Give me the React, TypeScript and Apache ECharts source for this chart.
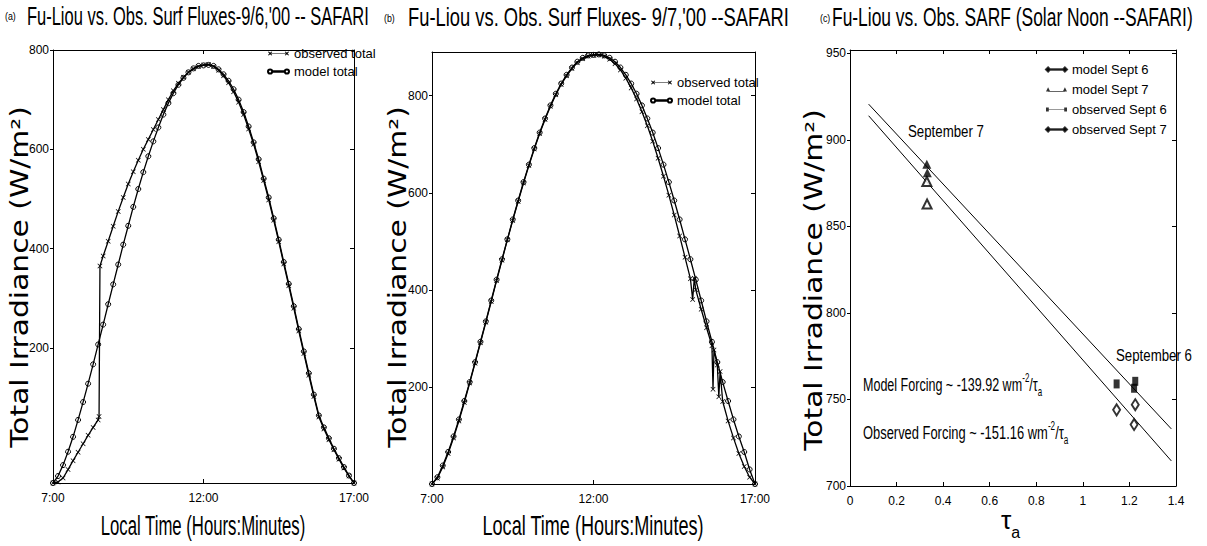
import React, { useEffect, useRef } from "react";
import * as echarts from "echarts";

// ---------- data ----------
// time in decimal hours, irradiance in W/m^2
const timesA = [7, 7.1667, 7.3333, 7.5, 7.6667, 7.8333, 8, 8.1667, 8.3333, 8.5, 8.6667, 8.8333, 9, 9.1667, 9.3333, 9.5, 9.6667, 9.8333, 10, 10.1667, 10.3333, 10.5, 10.6667, 10.8333, 11, 11.1667, 11.3333, 11.5, 11.6667, 11.8333, 12, 12.1667, 12.3333, 12.5, 12.6667, 12.8333, 13, 13.1667, 13.3333, 13.5, 13.6667, 13.8333, 14, 14.1667, 14.3333, 14.5, 14.6667, 14.8333, 15, 15.1667, 15.3333, 15.5, 15.6667, 15.8333, 16, 16.1667, 16.3333, 16.5, 16.6667, 16.8333, 17];
const modelA = [-72, -58, -36, -9, 21, 55, 91, 128, 167, 207, 247, 288, 328, 368, 408, 446, 484, 520, 554, 586, 616, 644, 670, 693, 713, 730, 744, 755, 763, 768, 769, 770, 768, 761, 751, 738, 721, 700, 675, 646, 614, 580, 541, 503, 461, 418, 373, 329, 284, 238, 193, 149, 106, 64, 40, 18, -3, -22, -40, -57, -72];
const obsTimesA = [7, 7.1667, 7.3333, 7.5, 7.6667, 7.8333, 8, 8.1667, 8.3333, 8.5, 8.53, 8.56, 8.6667, 8.8333, 9, 9.1667, 9.3333, 9.5, 9.6667, 9.8333, 10, 10.1667, 10.3333, 10.5, 10.6667, 10.8333, 11, 11.1667, 11.3333, 11.5, 11.6667, 11.8333, 12, 12.1667, 12.3333, 12.5, 12.6667, 12.8333, 13, 13.1667, 13.3333, 13.5, 13.6667, 13.8333, 14, 14.1667, 14.3333, 14.5, 14.6667, 14.8333, 15, 15.1667, 15.3333, 15.5, 15.6667, 15.8333, 16, 16.1667, 16.3333, 16.5, 16.6667, 16.8333, 17];
const obsA = [-72, -70, -62, -45, -27, -10, 7, 24, 40, 55, 62, 365, 385, 415, 445, 475, 503, 530, 555, 578, 600, 620, 640, 660, 680, 700, 718, 733, 745, 755, 762, 767, 770, 771, 767, 759, 748, 734, 716, 695, 670, 641, 610, 575, 537, 498, 457, 414, 369, 325, 280, 234, 189, 145, 102, 61, 37, 15, -5, -24, -42, -58, -72];

const timesB = timesA;
const modelB = [0, 14, 38, 66, 98, 133, 171, 210, 251, 293, 335, 378, 421, 463, 504, 545, 584, 622, 658, 692, 724, 753, 780, 804, 825, 843, 858, 870, 878, 883, 884, 885, 883, 878, 870, 858, 843, 825, 804, 780, 753, 724, 692, 658, 622, 584, 545, 504, 463, 421, 378, 335, 293, 251, 210, 171, 133, 98, 66, 30, 0];
const obsTimesB = [7, 7.1667, 7.3333, 7.5, 7.6667, 7.8333, 8, 8.1667, 8.3333, 8.5, 8.6667, 8.8333, 9, 9.1667, 9.3333, 9.5, 9.6667, 9.8333, 10, 10.1667, 10.3333, 10.5, 10.6667, 10.8333, 11, 11.1667, 11.3333, 11.5, 11.6667, 11.8333, 12, 12.1667, 12.3333, 12.5, 12.6667, 12.8333, 13, 13.1667, 13.3333, 13.5, 13.6667, 13.8333, 14, 14.1667, 14.3333, 14.5, 14.6667, 14.8333, 15, 15.07, 15.12, 15.1667, 15.3333, 15.5, 15.6667, 15.7, 15.73, 15.8333, 15.88, 15.92, 16, 16.1667, 16.3333, 16.5, 16.6667, 16.8333, 17];
const obsB = [0, 12, 35, 63, 95, 130, 168, 208, 249, 291, 333, 376, 419, 461, 503, 543, 582, 620, 656, 690, 722, 751, 778, 802, 823, 841, 856, 868, 876, 881, 883, 884, 881, 875, 866, 853, 836, 816, 793, 767, 738, 706, 671, 634, 595, 554, 511, 467, 423, 380, 424, 400, 360, 322, 285, 195, 276, 245, 180, 232, 170, 130, 95, 63, 36, 14, 0];

const tauLine = [0.08, 1.38];
const modelFitLine = [920.7, 733];
const obsFitLine = [914, 714.5];
const modelSept6Tau = [1.145, 1.225, 1.22];
const modelSept6 = [744, 747, 735.5];
const modelSept7Tau = [0.33, 0.332];
const modelSept7 = [886, 881];
const obsSept6Tau = [1.145, 1.22, 1.225];
const obsSept6 = [759, 756.5, 760.5];
const obsSept7Tau = [0.33, 0.331];
const obsSept7 = [876, 863];

const ticksA = [200, 400, 600, 800];
const ticksB = [200, 400, 600, 800];
const ticksC = [700, 750, 800, 850, 900, 950];
const timeTicks = [7, 12, 17];

// ---------- helpers ----------
const SANS = "'Liberation Sans', Arial, sans-serif";
const WIDE = "'DejaVu Sans', 'Liberation Sans', sans-serif";
const X_SYM = "path://M0,1L1,0L5,4L9,0L10,1L6,5L10,9L9,10L5,6L1,10L0,9L4,5Z";

const zip = (xs: number[], ys: number[]) => xs.map((x, i) => [x, ys[i]]);

function txt(x: number, y: number, text: string, size: number, sx: number, opts: any = {}) {
  return {
    type: "text",
    x,
    y,
    scaleX: sx,
    scaleY: opts.sy || 1,
    rotation: opts.rotation || 0,
    silent: true,
    style: {
      text,
      fill: "#000",
      fontFamily: opts.family || SANS,
      fontSize: size,
      textAlign: opts.align || "left",
      textVerticalAlign: "middle",
    },
  };
}

export default function App() {
  const ref = useRef<HTMLDivElement>(null);
  useEffect(() => {
    document.body.style.margin = "0";
    if (!ref.current) return;
    const chart = echarts.init(ref.current, undefined, { renderer: "svg" });

    const grids = [
      { left: 53, top: 50, width: 301, height: 433 },
      { left: 432, top: 52, width: 323, height: 432 },
      { left: 850, top: 50, width: 326, height: 436 },
    ];
    const axLine = { show: true, onZero: false, lineStyle: { color: "#000", width: 1 } };
    const lbl = { color: "#000", fontFamily: SANS, fontSize: 12 };
    const timeAxis = (g: number) => ({
      type: "value", gridIndex: g, min: 7, max: 17,
      axisLine: axLine, splitLine: { show: false },
      axisTick: { inside: true, length: 4, customValues: timeTicks, lineStyle: { color: "#000" } },
      axisLabel: { ...lbl, customValues: timeTicks, formatter: (v: number) => `${v}:00`, margin: 9 },
    });
    const mirrorX = (g: number, min: number, max: number, ticks?: number[], interval?: number) => ({
      type: "value", gridIndex: g, position: "top", min, max, interval,
      axisLine: axLine, splitLine: { show: false },
      axisTick: { inside: true, length: 4, customValues: ticks, lineStyle: { color: "#000" } },
      axisLabel: { show: false },
    });
    const leftY = (g: number, min: number, max: number, ticks: number[]) => ({
      type: "value", gridIndex: g, min, max,
      axisLine: axLine, splitLine: { show: false },
      axisTick: { show: true, inside: false, length: 3, customValues: ticks, lineStyle: { color: "#000" } },
      axisLabel: { ...lbl, customValues: ticks, margin: 4 },
    });
    const rightY = (g: number, min: number, max: number, ticks: number[]) => ({
      type: "value", gridIndex: g, min, max, position: "right",
      axisLine: axLine, splitLine: { show: false },
      axisTick: { show: true, inside: true, length: 4, customValues: ticks, lineStyle: { color: "#000" } },
      axisLabel: { show: false },
    });

    const lineSeries = (name: string, xi: number, yi: number, data: number[][], symbol: string, size: number, filled: boolean) => ({
      name, type: "line", xAxisIndex: xi, yAxisIndex: yi, data,
      symbol, symbolSize: size, showSymbol: true, showAllSymbol: true,
      lineStyle: { color: "#000", width: 1.3 },
      itemStyle: filled ? { color: "#000" } : { color: "rgba(255,255,255,0)", borderColor: "#000", borderWidth: 1 },
      z: filled ? 3 : 2,
    });
    const scatter = (name: string, data: number[][], symbol: string, size: any, filled: boolean) => ({
      name, type: "scatter", xAxisIndex: 4, yAxisIndex: 4, data, symbol, symbolSize: size,
      itemStyle: filled ? { color: "#000" } : { color: "#000", borderColor: "#000", borderWidth: 1.6 },
      z: 4,
    });

    const legIcon = (d: string) => `path://${d}`;
    const diamondEnds = "M0,5L3,2L6,5L3,8ZM3,4.5L27,4.5L27,5.5L3,5.5ZM24,5L27,2L30,5L27,8Z";
    const triEnds = "M0,8L3,2L6,8ZM3,7.5L27,7.5L27,8.5L3,8.5ZM24,8L27,2L30,8Z";
    const rectEnds = "M0,2L4,2L4,8L0,8ZM3,4.5L27,4.5L27,5.5L3,5.5ZM26,2L30,2L30,8L26,8Z";
    const xEnds = "M0,3L1,2L3,4L5,2L6,3L4,5L6,7L5,8L3,6L1,8L0,7L2,5ZM3,4.6L27,4.6L27,5.4L3,5.4ZM24,3L25,2L27,4L29,2L30,3L28,5L30,7L29,8L27,6L25,8L24,7L26,5Z";
    const oEnds = "M0,5A3,3,0,1,1,6,5A3,3,0,1,1,0,5ZM6,4.6L24,4.6L24,5.4L6,5.4ZM24,5A3,3,0,1,1,30,5A3,3,0,1,1,24,5Z";

    const legendBase = {
      orient: "vertical", itemWidth: 21, itemHeight: 7, itemGap: 5,
      textStyle: { color: "#000", fontFamily: SANS, fontSize: 13 },
      backgroundColor: "transparent",
    };

    const option: any = {
      animation: false,
      backgroundColor: "#fff",
      grid: grids.map((g) => ({ ...g, containLabel: false, show: false })),
      xAxis: [
        timeAxis(0), mirrorX(0, 7, 17, timeTicks),
        timeAxis(1), mirrorX(1, 7, 17, timeTicks),
        {
          type: "value", gridIndex: 2, min: 0, max: 1.4, interval: 0.2,
          axisLine: axLine, splitLine: { show: false },
          axisTick: { inside: true, length: 4, lineStyle: { color: "#000" } },
          axisLabel: { ...lbl, margin: 9 },
        },
        mirrorX(2, 0, 1.4, undefined, 0.2),
      ],
      yAxis: [
        leftY(0, -72, 800, ticksA), rightY(0, -72, 800, ticksA),
        leftY(1, 0, 890, ticksB), rightY(1, 0, 890, ticksB),
        leftY(2, 700, 952, ticksC), rightY(2, 700, 952, ticksC),
      ],
      legend: [
        {
          ...legendBase, left: 262, top: 42,
          data: [
            { name: "observed total", icon: legIcon(xEnds) },
            { name: "model total", icon: legIcon(oEnds) },
          ],
        },
        {
          ...legendBase, left: 645, top: 71,
          data: [
            { name: "observed total ", icon: legIcon(xEnds) },
            { name: "model total ", icon: legIcon(oEnds) },
          ],
        },
        {
          ...legendBase, left: 1040, top: 58, itemGap: 7,
          data: [
            { name: "model Sept 6", icon: legIcon(diamondEnds) },
            { name: "model Sept 7", icon: legIcon(triEnds) },
            { name: "observed Sept 6", icon: legIcon(rectEnds) },
            { name: "observed Sept 7", icon: legIcon(diamondEnds) },
          ],
        },
      ],
      series: [
        lineSeries("observed total", 0, 0, zip(obsTimesA, obsA), X_SYM, 5, true),
        lineSeries("model total", 0, 0, zip(timesA, modelA), "circle", 5, false),
        lineSeries("observed total ", 2, 2, zip(obsTimesB, obsB), X_SYM, 5, true),
        lineSeries("model total ", 2, 2, zip(timesB, modelB), "circle", 5, false),
        {
          type: "line", xAxisIndex: 4, yAxisIndex: 4, data: zip(tauLine, modelFitLine),
          symbol: "none", lineStyle: { color: "#000", width: 1 }, silent: true,
        },
        {
          type: "line", xAxisIndex: 4, yAxisIndex: 4, data: zip(tauLine, obsFitLine),
          symbol: "none", lineStyle: { color: "#000", width: 1 }, silent: true,
        },
        scatter("model Sept 6", zip(modelSept6Tau, modelSept6), "emptyDiamond", [7, 11], false),
        scatter("model Sept 7", zip(modelSept7Tau, modelSept7), "triangle", 9, true),
        scatter("observed Sept 6", zip(obsSept6Tau, obsSept6), "rect", [6, 9], true),
        scatter("observed Sept 7", zip(obsSept7Tau, obsSept7), "emptyTriangle", 9, false),
      ],
      graphic: [
        txt(5, 16, "(a)", 11, 0.8),
        txt(27, 16, "Fu-Liou vs. Obs. Surf Fluxes-9/6,'00 -- SAFARI", 26, 0.634),
        txt(384, 18, "(b)", 11, 0.8),
        txt(408, 17, "Fu-Liou vs. Obs. Surf Fluxes- 9/7,'00 --SAFARI", 26, 0.706),
        txt(820, 18, "(c)", 11, 0.8),
        txt(832, 17, "Fu-Liou vs. Obs. SARF (Solar Noon --SAFARI)", 26, 0.67),
        txt(20, 277, "Total Irradiance (W/m²)", 24, 1.24, { rotation: Math.PI / 2, align: "center", family: WIDE }),
        txt(398, 277, "Total Irradiance (W/m²)", 24, 1.24, { rotation: Math.PI / 2, align: "center", family: WIDE }),
        txt(814, 280, "Total Irradiance (W/m²)", 24, 1.24, { rotation: Math.PI / 2, align: "center", family: WIDE }),
        txt(203, 526, "Local Time (Hours:Minutes)", 27, 0.62, { align: "center" }),
        txt(593, 526, "Local Time (Hours:Minutes)", 27, 0.67, { align: "center" }),
        {
          type: "text", x: 1001, y: 520, silent: true,
          style: {
            text: "{t|τ}{s|a}", textVerticalAlign: "middle",
            rich: {
              t: { fontFamily: SANS, fontSize: 26, fill: "#000" },
              s: { fontFamily: SANS, fontSize: 16, fill: "#000", padding: [24, 0, 0, 0] },
            },
          },
        },
        txt(908, 131, "September 7", 17, 0.78),
        txt(1116, 355, "September 6", 17, 0.78),
        {
          type: "text", x: 863, y: 384, silent: true, scaleX: 0.66,
          style: {
            text: "{n|Model Forcing ~ -139.92 wm}{p|-2}{n|/τ}{b|a}", textVerticalAlign: "middle",
            rich: {
              n: { fontFamily: SANS, fontSize: 19, fill: "#000" },
              p: { fontFamily: SANS, fontSize: 12, fill: "#000", padding: [0, 0, 12, 0] },
              b: { fontFamily: SANS, fontSize: 12, fill: "#000", padding: [16, 0, 0, 0] },
            },
          },
        },
        {
          type: "text", x: 863, y: 432, silent: true, scaleX: 0.68,
          style: {
            text: "{n|Observed Forcing ~ -151.16 wm}{p|-2}{n|/τ}{b|a}", textVerticalAlign: "middle",
            rich: {
              n: { fontFamily: SANS, fontSize: 19, fill: "#000" },
              p: { fontFamily: SANS, fontSize: 12, fill: "#000", padding: [0, 0, 12, 0] },
              b: { fontFamily: SANS, fontSize: 12, fill: "#000", padding: [16, 0, 0, 0] },
            },
          },
        },
      ],
    };
    chart.setOption(option);
    return () => chart.dispose();
  }, []);
  return <div ref={ref} style={{ width: 1207, height: 546 }} />;
}
